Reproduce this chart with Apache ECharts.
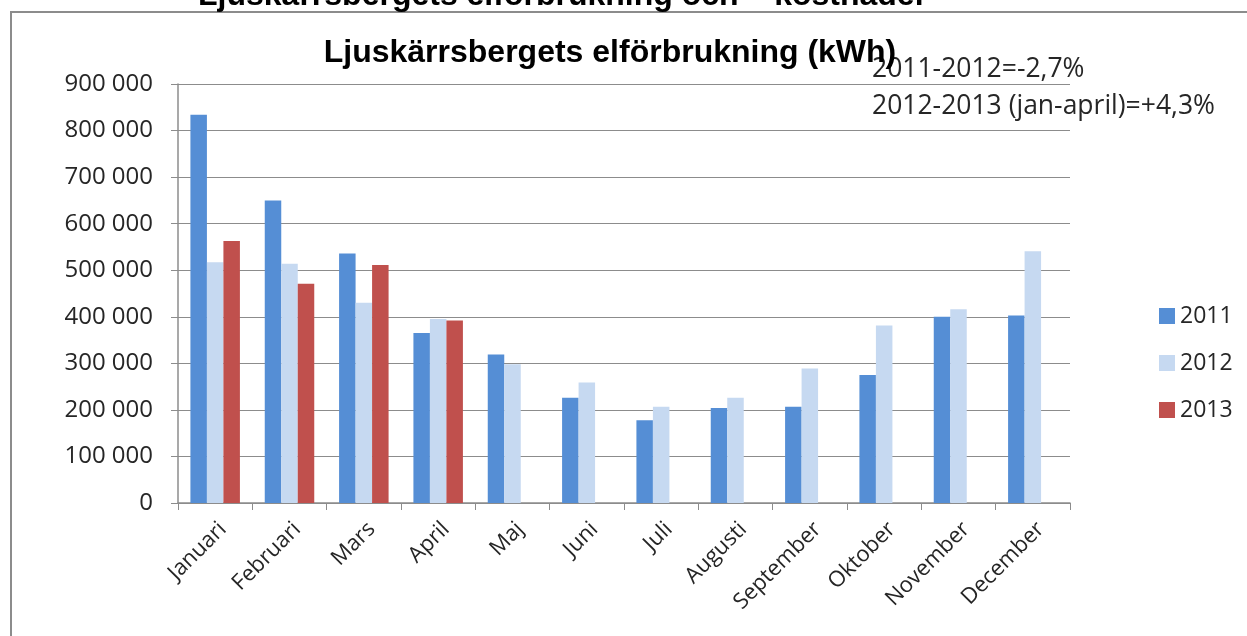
<!DOCTYPE html>
<html>
<head>
<meta charset="utf-8">
<script src="https://cdn.jsdelivr.net/npm/echarts@6/dist/echarts.min.js"></script>
<style>
  html, body { margin: 0; padding: 0; background: #fff; }
  #chart { width: 1247px; height: 636px; }
</style>
</head>
<body>
<div id="chart"></div>
<script>
  // månader och förbrukning (kWh)
  const months = ['Januari', 'Februari', 'Mars', 'April', 'Maj', 'Juni', 'Juli', 'Augusti', 'September', 'Oktober', 'November', 'December']
  const kwh2011 = [834000, 650000, 536000, 365000, 319000, 226000, 178000, 204000, 207000, 275000, 400000, 403000]
  const kwh2012 = [517000, 514000, 430000, 395000, 298000, 259000, 207000, 226000, 289000, 381000, 416000, 541000]
  const kwh2013 = [563000, 471000, 511000, 392000, null, null, null, null, null, null, null, null]
  const seriesNames = ['2011', '2012', '2013']
  const yTicks = { min: 0, max: 900000, step: 100000 }
  const notes = ['2011-2012=-2,7%', '2012-2013 (jan-april)=+4,3%']

  const colors = ['#558ed5', '#c6d9f1', '#c0504d']
  const gray = '#8c8c8c'
  const labelFont = '"Open Sans", "Liberation Sans", sans-serif'

  const chart = echarts.init(document.getElementById('chart'))

  function barSeries(name, data, i) {
    return {
      name: name,
      type: 'bar',
      data: data,
      barWidth: 16.5,
      barGap: '0%',
      itemStyle: { color: colors[i] }
    }
  }

  const option = {
    animation: false,
    backgroundColor: '#fff',
    title: {
      text: 'Ljuskärrsbergets elförbrukning (kWh)',
      left: 605,
      top: 32,
      textAlign: 'center',
      textStyle: {
        fontFamily: '"Liberation Sans", Arial, sans-serif',
        fontWeight: 'bold',
        fontSize: 32,
        color: '#000'
      }
    },
    legend: {
      orient: 'vertical',
      left: 1154,
      top: 299,
      itemWidth: 16,
      itemHeight: 16,
      itemGap: 23,
      icon: 'rect',
      data: seriesNames,
      textStyle: { fontFamily: labelFont, fontSize: 23, color: '#262626', lineHeight: 24 }
    },
    grid: { left: 178, right: 177, top: 84, bottom: 133 },
    xAxis: {
      type: 'category',
      data: months,
      axisLine: { lineStyle: { color: gray, width: 1.5 } },
      axisTick: { show: true, length: 7, lineStyle: { color: gray } },
      axisLabel: {
        rotate: 45,
        margin: 15,
        verticalAlign: 'top',
        fontFamily: labelFont,
        fontSize: 22,
        color: '#262626'
      }
    },
    yAxis: {
      type: 'value',
      min: yTicks.min,
      max: yTicks.max,
      interval: yTicks.step,
      axisLine: { show: true, lineStyle: { color: gray, width: 1.5 } },
      axisTick: { show: true, length: 7, lineStyle: { color: gray } },
      splitLine: { lineStyle: { color: gray, width: 1.2 } },
      axisLabel: {
        margin: 25,
        fontFamily: labelFont,
        fontSize: 24,
        color: '#262626',
        formatter: function (v) {
          return String(v).replace(/\B(?=(\d{3})+(?!\d))/g, ' ')
        }
      }
    },
    series: [
      barSeries(seriesNames[0], kwh2011, 0),
      barSeries(seriesNames[1], kwh2012, 1),
      barSeries(seriesNames[2], kwh2013, 2)
    ],
    graphic: [
      {
        // avklippt rubrik överst på bilden
        type: 'text',
        left: 198,
        top: -20,
        style: {
          text: 'Ljuskärrsbergets elförbrukning och – kostnader',
          font: 'bold 32px "Liberation Sans", Arial, sans-serif',
          fill: '#000'
        }
      },
      {
        type: 'rect',
        shape: { x: 11, y: 12, width: 1400, height: 800 },
        style: { fill: '#fff', stroke: gray, lineWidth: 2 },
        z: -1
      },
      {
        type: 'text',
        left: 872,
        top: 56,
        style: { text: notes[0], font: '26.5px "Open Sans", sans-serif', fill: '#262626' }
      },
      {
        type: 'text',
        left: 872,
        top: 93,
        style: { text: notes[1], font: '26.5px "Open Sans", sans-serif', fill: '#262626' }
      }
    ]
  }

  chart.setOption(option)
</script>
</body>
</html>
